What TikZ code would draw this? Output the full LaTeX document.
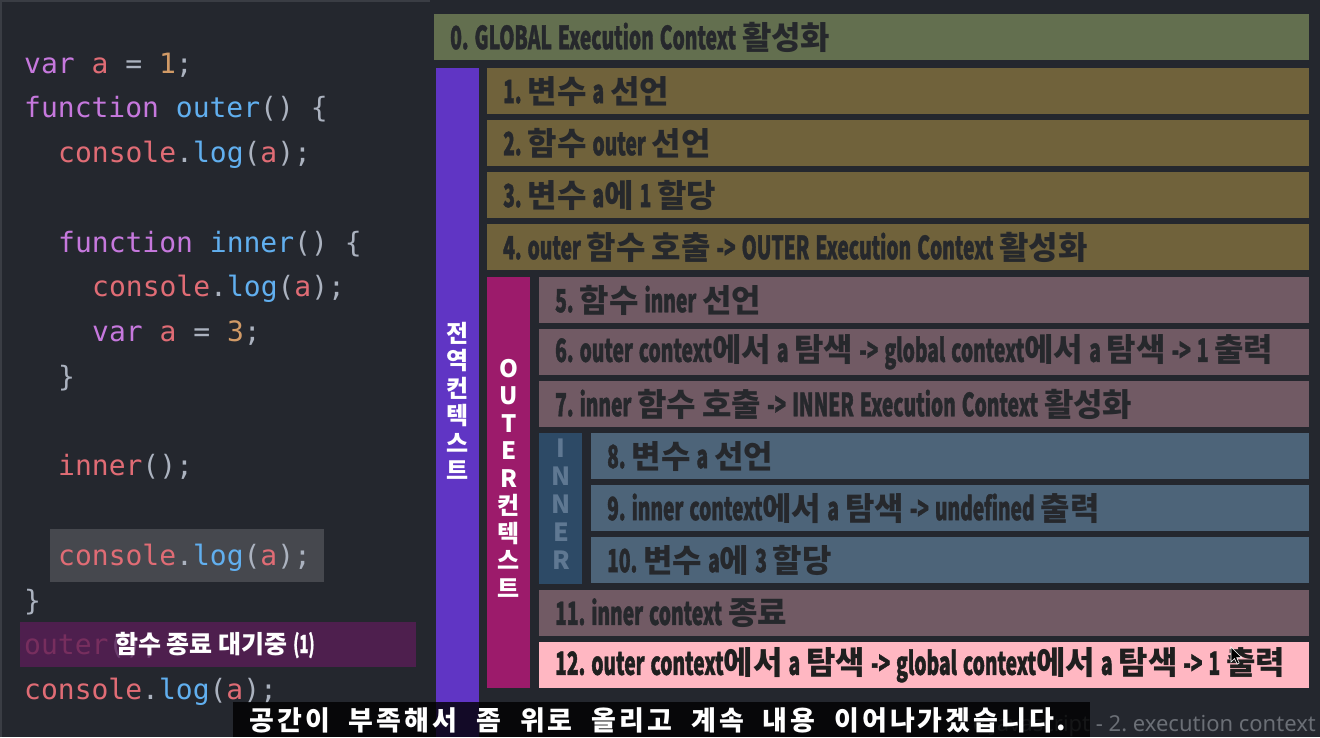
\documentclass[tikz,border=0pt]{standalone}
\usepackage{fontspec}
\setmainfont{Noto Sans}
\newfontfamily\codefont{DejaVu Sans Mono}
\newfontfamily\krfont{Noto Sans CJK KR}
\newfontfamily\subfont{Noto Sans CJK KR}[LetterSpace=11]
\newfontfamily\latc{Noto Sans CJK KR}[FakeStretch=0.6,FakeBold=1.2]
\newcommand\K[1]{{\krfont\bfseries #1}}
\newcommand\narrowsp{\frenchspacing\spaceskip=6pt\relax}
\frenchspacing
\definecolor{bgc}{HTML}{24272E}
\definecolor{edge}{HTML}{3A3D44}
\definecolor{ckw}{HTML}{C678DD}
\definecolor{cvar}{HTML}{E06C75}
\definecolor{cnum}{HTML}{D19A66}
\definecolor{cfn}{HTML}{61AFEF}
\definecolor{cpn}{HTML}{ABB2BF}
\definecolor{hlbox}{HTML}{46484E}
\definecolor{waitbox}{HTML}{5A1D58}
\definecolor{gbar}{HTML}{636F4F}
\definecolor{obar}{HTML}{70623B}
\definecolor{mbar}{HTML}{715A64}
\definecolor{bbar}{HTML}{4D6479}
\definecolor{pbar}{HTML}{FFB7C2}
\definecolor{purp}{HTML}{6035C4}
\definecolor{mag}{HTML}{9C1B6B}
\definecolor{innr}{HTML}{2D4A66}
\definecolor{innrtxt}{HTML}{5F7892}
\definecolor{stxt}{HTML}{26282C}
\definecolor{foot}{HTML}{6B6F76}
\newcommand\CKw[1]{\textcolor{ckw}{#1}}
\newcommand\CVar[1]{\textcolor{cvar}{#1}}
\newcommand\CNum[1]{\textcolor{cnum}{#1}}
\newcommand\CFn[1]{\textcolor{cfn}{#1}}
\newcommand\CPn[1]{\textcolor{cpn}{#1}}
\newcommand\CLog{\CVar{console}\CPn{.}\CFn{log}\CPn{(}\CVar{a}\CPn{);}}
\tikzset{
  code/.style={anchor=base west, inner sep=0pt, font=\codefont\fontsize{28}{30}\selectfont},
  bar/.style={fill=#1, draw=none, anchor=north west, minimum height=46, inner xsep=16pt, inner ysep=0pt,
    text=stxt, align=left, font=\latc\bfseries\fontsize{32}{34}\selectfont, execute at begin node=\narrowsp},
  vbar/.style={fill=#1, draw=none, anchor=north west, minimum width=43, inner sep=0pt},
  vlabel/.style={align=center, inner sep=0pt, text=white, font=\krfont\bfseries\fontsize{24}{27.5}\selectfont},
}
\begin{document}
\begin{tikzpicture}[x=1pt,y=-1pt]
\useasboundingbox (0,0) rectangle (1320,737);
\fill[bgc] (0,0) rectangle (1320,737);
\draw[edge, line width=1.5] (1,737) -- (1,1) -- (430,1);
% code
\fill[hlbox] (50,529) rectangle (324,582);
\node[code] (c1) at (24,73) {\CKw{var} \CVar{a} \CPn{=} \CNum{1}\CPn{;}};
\node[code] (c2) at (24,117.75) {\CKw{function} \CFn{outer}\CPn{() \{}};
\node[code] (c3) at (58,162.5) {\CLog};
\node[code] (c5) at (58,252) {\CKw{function} \CFn{inner}\CPn{() \{}};
\node[code] (c6) at (92,296.75) {\CLog};
\node[code] (c7) at (92,341.5) {\CKw{var} \CVar{a} \CPn{=} \CNum{3}\CPn{;}};
\node[code] (c8) at (58,386.25) {\CPn{\}}};
\node[code] (c10) at (58,475.75) {\CVar{inner}\CPn{();}};
\node[code] (c12) at (58,565.25) {\CLog};
\node[code] (c13) at (24,610) {\CPn{\}}};
\node[code] (c14) at (24,654.75) {\CVar{outer}\CPn{();}};
\fill[waitbox, opacity=0.78] (20,622) rectangle (416,667);
\node[anchor=west, inner sep=0pt, text=white, font=\krfont\bfseries\fontsize{25}{27}\selectfont] (wait) at (115,645) {함수 종료 대기중 {\latc (1)}};
\node[code] (c15) at (24,699.5) {\CLog};
% slide bars
\node[bar=gbar, minimum width=875, text width=843] (b0) at (434,14) {0. GLOBAL Execution Context \K{활성화}};
\node[vbar=purp, minimum height=669] (vp) at (436,68) {};
\node[bar=obar, minimum width=822, text width=790] (b1) at (487,68) {1. \K{변수} a \K{선언}};
\node[bar=obar, minimum width=822, text width=790] (b2) at (487,120) {2. \K{함수} outer \K{선언}};
\node[bar=obar, minimum width=822, text width=790] (b3) at (487,172) {3. \K{변수} a\K{에} 1 \K{할당}};
\node[bar=obar, minimum width=822, text width=790] (b4) at (487,224) {4. outer \K{함수 호출} -> OUTER Execution Context \K{활성화}};
\node[vbar=mag, minimum height=411] (vo) at (487,277) {};
\node[bar=mbar, minimum width=770, text width=738] (b5) at (539,277) {5. \K{함수} inner \K{선언}};
\node[bar=mbar, minimum width=770, text width=738] (b6) at (539,329) {6. outer context\K{에서} a \K{탐색} -> global context\K{에서} a \K{탐색} -> 1 \K{출력}};
\node[bar=mbar, minimum width=770, text width=738] (b7) at (539,381) {7. inner \K{함수 호출} -> INNER Execution Context \K{활성화}};
\node[vbar=innr, minimum height=151] (vi) at (539,433) {};
\node[bar=bbar, minimum width=718, text width=686] (b8) at (591,433) {8. \K{변수} a \K{선언}};
\node[bar=bbar, minimum width=718, text width=686] (b9) at (591,485) {9. inner context\K{에서} a \K{탐색} -> undefined \K{출력}};
\node[bar=bbar, minimum width=718, text width=686] (b10) at (591,537) {10. \K{변수} a\K{에} 3 \K{할당}};
\node[bar=mbar, minimum width=770, text width=738] (b11) at (539,590) {11. inner context \K{종료}};
\node[bar=pbar, minimum width=770, text width=738, text=black!88] (b12) at (539,642) {12. outer context\K{에서} a \K{탐색} -> global context\K{에서} a \K{탐색} -> 1 \K{출력}};
% vertical labels
\node[vlabel] (lp) at (458,401) {전\\역\\컨\\텍\\스\\트};
\node[vlabel] (lo) at (509,478) {O\\U\\T\\E\\R\\컨\\텍\\스\\트};
\node[vlabel, text=innrtxt, font=\krfont\bfseries\fontsize{25}{28}\selectfont] (li) at (561,504) {I\\N\\N\\E\\R};
% cursor
\fill[black, draw=white, line width=0.6] (1231,647) -- ++(0,15) -- ++(3.5,-3.5) -- ++(2.5,5.5) -- ++(2.2,-1) -- ++(-2.5,-5.3) -- ++(5,0) -- cycle;
% footer + subtitle
\node[anchor=base east, inner sep=0pt, text=foot, font=\fontsize{22}{24}\selectfont] (foot) at (1316,731) {e Javascript - 2. execution context};
\fill[black, opacity=0.8] (233,702) rectangle (1090,737);
\node[inner sep=0pt, text=white, font=\subfont\bfseries\fontsize{27}{29}\selectfont, execute at begin node={\spaceskip=19pt\relax}] (sub) at (658,720) {공간이 부족해서 좀 위로 올리고 계속 내용 이어나가겠습니다.};
\end{tikzpicture}
\end{document}
